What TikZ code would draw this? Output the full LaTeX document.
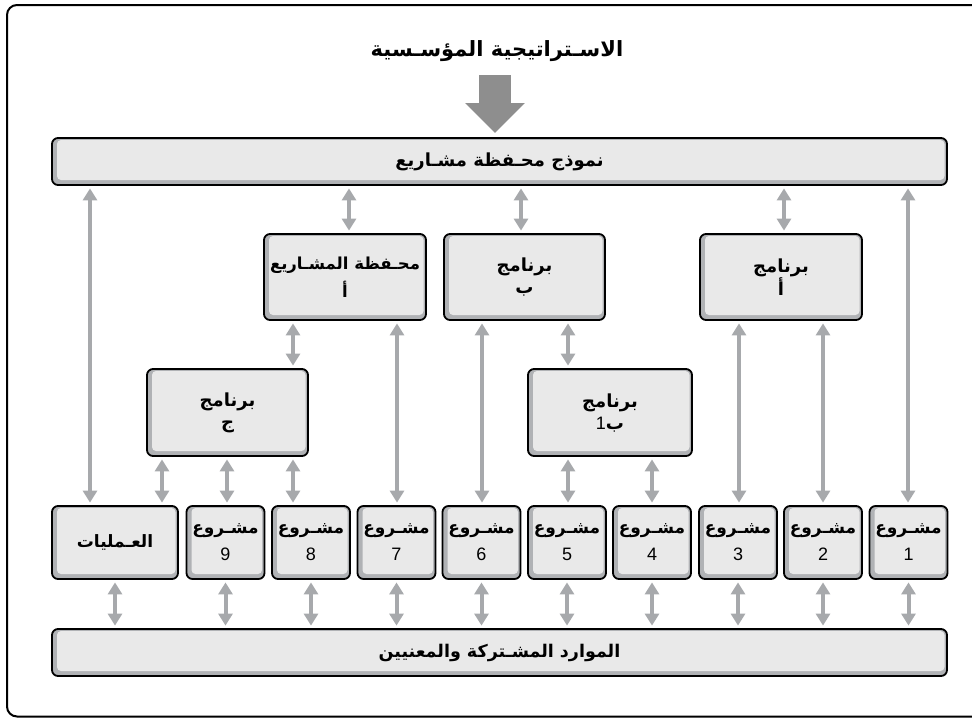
\documentclass[tikz,border=0pt]{standalone}
\usepackage{fontspec}
\setmainfont{Liberation Sans}
\newfontfamily\arabicfont[Script=Arabic]{DejaVu Sans}
\TeXXeTstate=1
\usetikzlibrary{arrows.meta}
\newcommand{\artxt}[1]{{\arabicfont\bfseries\beginR #1\endR}}
\newcommand{\digit}[1]{{\fontsize{18}{20}\selectfont #1}}

\definecolor{arrowgrey}{HTML}{A7A9AC}
\definecolor{bigarrowgrey}{HTML}{8E8E8E}
\definecolor{boxface}{HTML}{E9E9E9}
\definecolor{boxshade}{HTML}{B0B2B5}

\tikzset{
  bevel/.style={draw=black, line width=1.8pt, rounded corners=6pt, fill=boxshade,
    inner sep=0pt, align=center, font=\fontsize{18}{22}\selectfont,
    path picture={\fill[boxface, rounded corners=4pt]
      ([xshift=5pt,yshift=5pt]path picture bounding box.south west) rectangle
      ([xshift=-2.5pt,yshift=-2pt]path picture bounding box.north east);}},
  progbox/.style={bevel, minimum width=162pt, minimum height=86pt},
  projbox/.style={bevel, minimum width=78pt, minimum height=73pt,
    font=\fontsize{17}{27}\selectfont},
  barbox/.style={bevel, minimum width=895pt, minimum height=47pt},
  link/.style={draw=arrowgrey, line width=4pt,
    arrows={Triangle[width=14pt,length=12pt]-Triangle[width=14pt,length=12pt]},
    shorten <=2.5pt, shorten >=2.5pt},
  bigarrow/.style={draw=bigarrowgrey, line width=32pt,
    arrows={-Triangle[width=58pt,length=30pt]}, shorten >=4pt},
}

\begin{document}
\begin{tikzpicture}[x=1pt,y=-1pt]
\useasboundingbox (0,0) rectangle (972,718);

% outer frame
\draw[line width=2pt, rounded corners=10pt] (7,5) rectangle (1000,716.5);

% strategy heading and the arrow into the portfolio model
\node[font=\fontsize{21}{25}\selectfont] (strategy) at (497,51)
  {\artxt{الاسـتراتيجية المؤسـسية}};
\coordinate (stratfoot) at (495,75);
\draw[bigarrow] (stratfoot) -- (stratfoot |- 0,137);

% portfolio model bar
\node[barbox, font=\fontsize{18}{22}\selectfont] (model) at (499.5,161.5)
  {\artxt{نموذج محـفظة مشـاريع}};

% second level
\node[progbox, font=\fontsize{16.5}{28}\selectfont] (pfA) at (345,277)
  {\artxt{محـفظة المشـاريع}\\\artxt{أ}};
\node[progbox, minimum width=161pt] (progB) at (524.5,277) {\artxt{برنامج}\\\artxt{ب}};
\node[progbox] (progA) at (781,277) {\artxt{برنامج}\\\artxt{أ}};

% third level
\node[progbox, minimum width=161pt, minimum height=87pt] (progC) at (227.5,412.5)
  {\artxt{برنامج}\\\artxt{ج}};
\node[progbox, minimum width=164pt, minimum height=87pt] (progBone) at (610,412.5)
  {\artxt{برنامج}\\\hbox{\digit{1}}\hbox{\arabicfont\bfseries ب}};

% operations and projects
\node[projbox, minimum width=126pt] (ops) at (115,542.5) {\artxt{العـمليات}};
\node[projbox] (p9) at (225.5,542.5) {\artxt{مشـروع}\\\digit{9}};
\node[projbox] (p8) at (311,542.5) {\artxt{مشـروع}\\\digit{8}};
\node[projbox] (p7) at (396.5,542.5) {\artxt{مشـروع}\\\digit{7}};
\node[projbox] (p6) at (481.5,542.5) {\artxt{مشـروع}\\\digit{6}};
\node[projbox] (p5) at (567,542.5) {\artxt{مشـروع}\\\digit{5}};
\node[projbox] (p4) at (652,542.5) {\artxt{مشـروع}\\\digit{4}};
\node[projbox] (p3) at (738,542.5) {\artxt{مشـروع}\\\digit{3}};
\node[projbox] (p2) at (823,542.5) {\artxt{مشـروع}\\\digit{2}};
\node[projbox] (p1) at (908.5,542.5) {\artxt{مشـروع}\\\digit{1}};

% shared resources bar
\node[barbox, font=\fontsize{17.5}{20}\selectfont] (res) at (499.5,652.5)
  {\artxt{الموارد المشـتركة والمعنيين}};

% connector columns
\coordinate (c0) at (90,0);
\coordinate (c1) at (162,0);
\coordinate (c2) at (227,0);
\coordinate (c3) at (293,0);
\coordinate (c4) at (349,0);
\coordinate (c5) at (397,0);
\coordinate (c6) at (482,0);
\coordinate (c7) at (521,0);
\coordinate (c8) at (568,0);
\coordinate (c9) at (652,0);
\coordinate (c10) at (739,0);
\coordinate (c11) at (784,0);
\coordinate (c12) at (823,0);
\coordinate (c13) at (908,0);

% model bar links
\draw[link] (model.south -| c0) -- (ops.north -| c0);
\draw[link] (model.south -| c4) -- (pfA.north -| c4);
\draw[link] (model.south -| c7) -- (progB.north -| c7);
\draw[link] (model.south -| c11) -- (progA.north -| c11);
\draw[link] (model.south -| c13) -- (p1.north -| c13);

% portfolio A links
\draw[link] (pfA.south -| c3) -- (progC.north -| c3);
\draw[link] (pfA.south -| c5) -- (p7.north -| c5);

% program B links
\draw[link] (progB.south -| c6) -- (p6.north -| c6);
\draw[link] (progB.south -| c8) -- (progBone.north -| c8);

% program A links
\draw[link] (progA.south -| c10) -- (p3.north -| c10);
\draw[link] (progA.south -| c12) -- (p2.north -| c12);

% program C links
\draw[link] (progC.south -| c1) -- (ops.north -| c1);
\draw[link] (progC.south -| c2) -- (p9.north -| c2);
\draw[link] (progC.south -| c3) -- (p8.north -| c3);

% program B1 links
\draw[link] (progBone.south -| c8) -- (p5.north -| c8);
\draw[link] (progBone.south -| c9) -- (p4.north -| c9);

% links to shared resources
\foreach \n in {ops,p9,p8,p7,p6,p5,p4,p3,p2,p1}
  \draw[link] (\n.south) -- (\n.south |- res.north);
\end{tikzpicture}
\end{document}
